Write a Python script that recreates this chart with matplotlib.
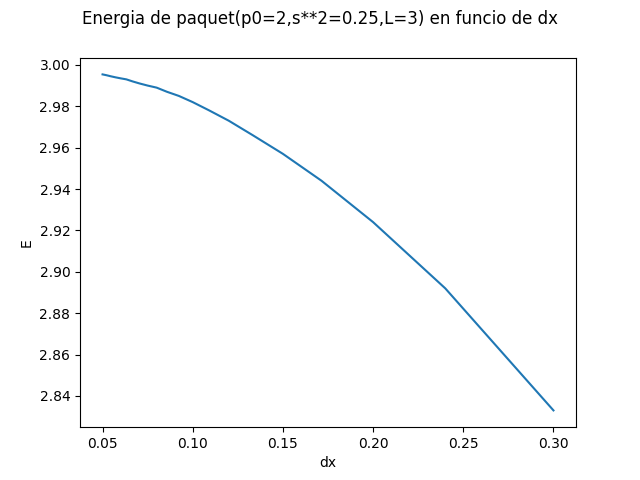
import matplotlib
matplotlib.use("Agg")
import matplotlib.pyplot as plt

# dx values and the energy
dx = [0.3, 0.24, 0.2, 0.1714, 0.15, 0.1333, 0.12, 0.1091, 0.1, 0.0923,
      0.0857, 0.08, 0.075, 0.0706, 0.0667, 0.0632, 0.06, 0.0571, 0.0545,
      0.0522, 0.05]
E = [2.833, 2.892, 2.924, 2.944, 2.957, 2.966, 2.973, 2.978, 2.982, 2.985,
     2.987, 2.989, 2.990, 2.991, 2.992, 2.993, 2.9935, 2.994, 2.9945,
     2.995, 2.9954]

fig, ax = plt.subplots(figsize=(6.4, 4.8), dpi=100)
ax.plot(dx, E)
ax.set_xlabel("dx")
ax.set_ylabel("E")
fig.suptitle("Energia de paquet(p0=2,s**2=0.25,L=3) en funcio de dx")
fig.savefig("out.png")
